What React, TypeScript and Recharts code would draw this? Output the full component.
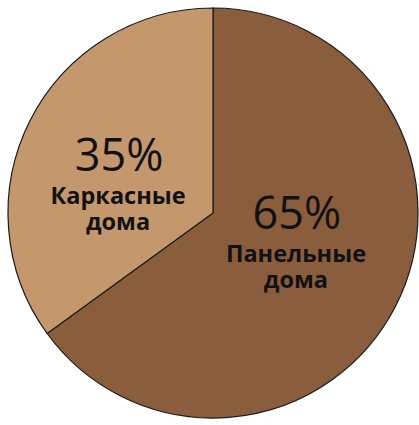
import { PieChart, Pie, Cell } from 'recharts';

const categories = ['Панельные', 'Каркасные'];
const values = [65, 35];
const colors = ['#8A5D3D', '#C4986C'];

const data = categories.map((name, i) => ({ name, value: values[i] }));

const RAD = Math.PI / 180;

function SliceLabel({ cx, cy, midAngle, outerRadius, name, value }: any) {
  const x = cx + outerRadius * 0.487 * Math.cos(-midAngle * RAD) - 6;
  const y = cy + outerRadius * 0.31 * Math.sin(-midAngle * RAD) + 20;
  return (
    <g fill="#111" textAnchor="middle" fontFamily="'Open Sans', 'Noto Sans', sans-serif">
      <text x={x + 1} y={y - 33} fontSize={45}>{value}%</text>
      <text x={x} y={y} fontSize={23.5} fontWeight={700}>
        <tspan x={x} dy={0}>{name}</tspan>
        <tspan x={x} dy={26}>дома</tspan>
      </text>
    </g>
  );
}

export default function App() {
  return (
    <div style={{ position: 'absolute', left: 0, top: 0 }}>
      <PieChart width={419} height={425} margin={{ top: 0, right: 0, bottom: 0, left: 0 }}>
        <Pie
          data={data}
          dataKey="value"
          nameKey="name"
          cx={213}
          cy={213}
          outerRadius={205}
          startAngle={90}
          endAngle={-270}
          stroke="#1a1a1a"
          strokeWidth={1.2}
          label={SliceLabel}
          labelLine={false}
          isAnimationActive={false}
        >
          {data.map((d, i) => (
            <Cell key={d.name} fill={colors[i]} />
          ))}
        </Pie>
      </PieChart>
    </div>
  );
}
